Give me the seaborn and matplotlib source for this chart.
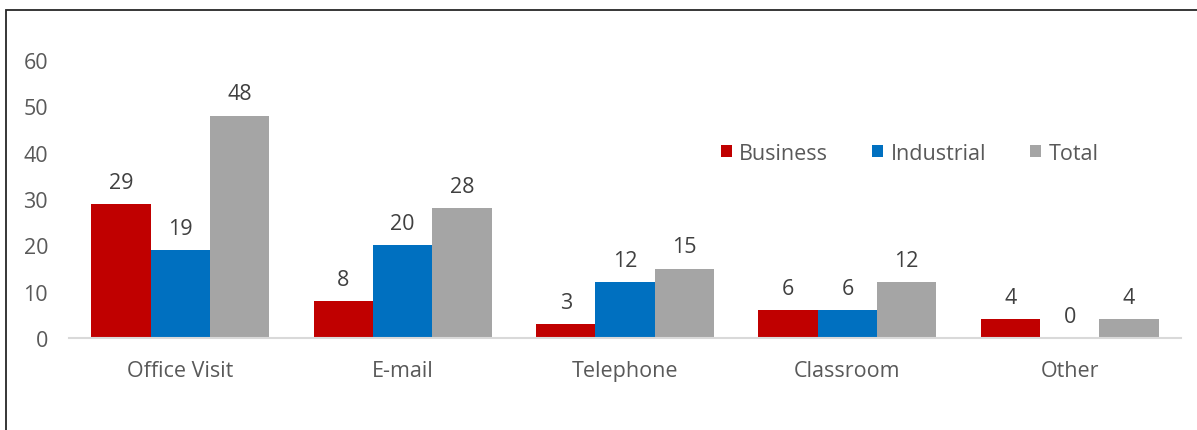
import matplotlib
matplotlib.use("Agg")
import matplotlib.pyplot as plt
import matplotlib.patches as mpatches
import seaborn as sns
import pandas as pd

channels = ["Office Visit", "E-mail", "Telephone", "Classroom", "Other"]
business = [29, 8, 3, 6, 4]
industrial = [19, 20, 12, 6, 0]
total = [48, 28, 15, 12, 4]
groups = ["Business", "Industrial", "Total"]
colors = ["#C00000", "#0070C0", "#A5A5A5"]
y_ticks = [0, 10, 20, 30, 40, 50, 60]

df = pd.DataFrame({
    "channel": channels * 3,
    "group": [g for g in groups for _ in channels],
    "count": business + industrial + total,
})

sns.set_theme(style="white")
plt.rcParams["font.family"] = ["Open Sans", "DejaVu Sans"]

W, H = 1197, 431
FS = 15.5
fig = plt.figure(figsize=(W / 100, H / 100), dpi=100)
ax = fig.add_axes([69 / W, 1 - 339 / H, (1181 - 69) / W, (339 - 61) / H])

sns.barplot(data=df, x="channel", y="count", hue="group", palette=colors,
            width=0.8, saturation=1, ax=ax, linewidth=0, legend=True)

ax.set_ylim(0, 60)
ax.set_xlim(-0.5, 4.5)
ax.set_yticks(y_ticks)
ax.set_xlabel("")
ax.set_ylabel("")
for s in ["top", "right", "left"]:
    ax.spines[s].set_visible(False)
ax.spines["bottom"].set_color("#D9D9D9")
ax.spines["bottom"].set_linewidth(1.5)
ax.tick_params(axis="y", length=0, pad=15, labelsize=FS, labelcolor="#595959")
ax.tick_params(axis="x", length=0, pad=16, labelsize=FS, labelcolor="#595959")

for cont in ax.containers:
    ax.bar_label(cont, fmt="%d", padding=8, fontsize=FS, color="#404040")

handles, labels = ax.get_legend_handles_labels()
ax.legend(handles, labels, loc="center left", bbox_to_anchor=(721 / W, 1 - 154 / H),
          bbox_transform=fig.transFigure, ncol=3, frameon=False, fontsize=FS,
          handlelength=0.5, handleheight=0.5, handletextpad=0.35,
          columnspacing=2.05, borderpad=0, borderaxespad=0, labelcolor="#595959")

# chart-area border (runs off the right and bottom edges)
fig.add_artist(mpatches.Rectangle((6 / W, -0.2), 1.2, 1.2 - 11 / H, transform=fig.transFigure,
                                  fill=False, edgecolor="#262626", linewidth=1.3, clip_on=False))

fig.savefig("out.png", dpi=100)
